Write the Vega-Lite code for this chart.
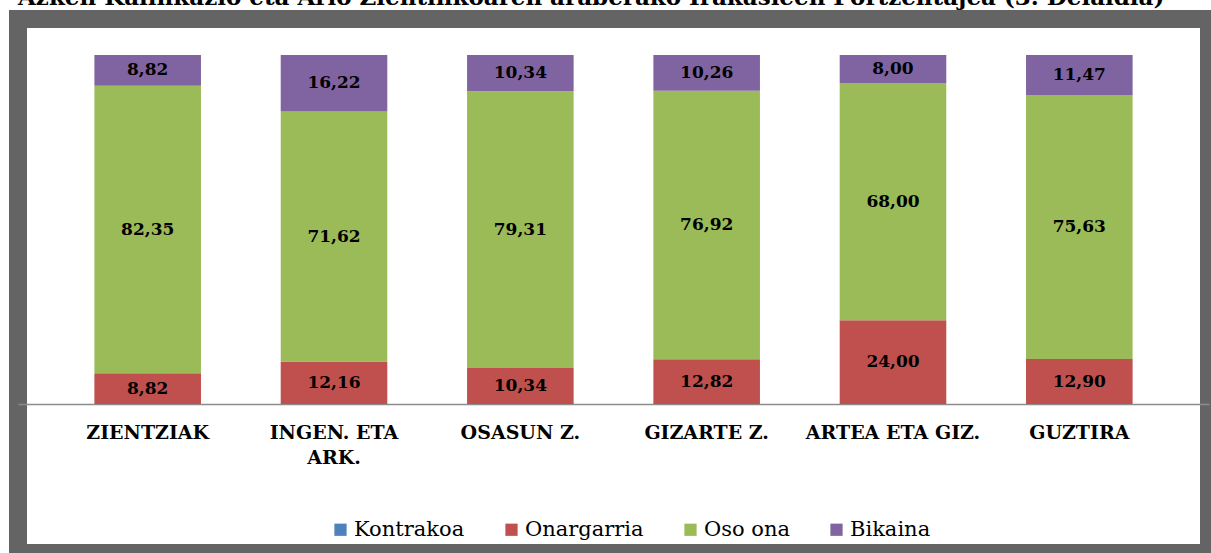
{
  "$schema": "https://vega.github.io/schema/vega-lite/v6.json",
  "autosize": {"type": "none"},
  "width": 1191,
  "height": 534,
  "padding": {"left": 18, "top": 19, "right": 2, "bottom": 0},
  "background": "white",
  "title": {
    "text": "Azken Kalifikazio eta Arlo Zientifikoaren araberako Irakasleen Portzentajea (3. Deialdia)",
    "anchor": "start",
    "font": "DejaVu Serif",
    "fontSize": 23,
    "fontWeight": "bold",
    "color": "black",
    "baseline": "alphabetic",
    "offset": 4,
    "dy": 13
  },
  "config": {
    "locale": {"number": {"decimal": ",", "thousands": ".", "grouping": [3], "currency": ["", " €"]}},
    "view": {"fill": "white", "stroke": "#646464", "strokeWidth": 18}
  },
  "data": {
    "values": [
      {"arloa": "ZIENTZIAK", "kalif": "Onargarria", "value": 8.82},
      {"arloa": "ZIENTZIAK", "kalif": "Oso ona", "value": 82.35},
      {"arloa": "ZIENTZIAK", "kalif": "Bikaina", "value": 8.82},
      {"arloa": "INGEN. ETA ARK.", "kalif": "Onargarria", "value": 12.16},
      {"arloa": "INGEN. ETA ARK.", "kalif": "Oso ona", "value": 71.62},
      {"arloa": "INGEN. ETA ARK.", "kalif": "Bikaina", "value": 16.22},
      {"arloa": "OSASUN Z.", "kalif": "Onargarria", "value": 10.34},
      {"arloa": "OSASUN Z.", "kalif": "Oso ona", "value": 79.31},
      {"arloa": "OSASUN Z.", "kalif": "Bikaina", "value": 10.34},
      {"arloa": "GIZARTE Z.", "kalif": "Onargarria", "value": 12.82},
      {"arloa": "GIZARTE Z.", "kalif": "Oso ona", "value": 76.92},
      {"arloa": "GIZARTE Z.", "kalif": "Bikaina", "value": 10.26},
      {"arloa": "ARTEA ETA GIZ.", "kalif": "Onargarria", "value": 24.00},
      {"arloa": "ARTEA ETA GIZ.", "kalif": "Oso ona", "value": 68.00},
      {"arloa": "ARTEA ETA GIZ.", "kalif": "Bikaina", "value": 8.00},
      {"arloa": "GUZTIRA", "kalif": "Onargarria", "value": 12.90},
      {"arloa": "GUZTIRA", "kalif": "Oso ona", "value": 75.63},
      {"arloa": "GUZTIRA", "kalif": "Bikaina", "value": 11.47}
    ]
  },
  "transform": [
    {"calculate": "indexof(['Kontrakoa','Onargarria','Oso ona','Bikaina'], datum.kalif)", "as": "ord"},
    {"stack": "value", "groupby": ["arloa"], "sort": [{"field": "ord", "order": "ascending"}], "as": ["v0", "v1"]},
    {"calculate": "(datum.v0 + datum.v1) / 2", "as": "mid"}
  ],
  "encoding": {
    "x": {
      "field": "arloa",
      "type": "nominal",
      "sort": ["ZIENTZIAK", "INGEN. ETA ARK.", "OSASUN Z.", "GIZARTE Z.", "ARTEA ETA GIZ.", "GUZTIRA"],
      "scale": {"paddingInner": 0.428, "paddingOuter": 0.41},
      "axis": {
        "title": null,
        "orient": "bottom",
        "offset": -149,
        "ticks": false,
        "grid": false,
        "domainColor": "#8c8c8c",
        "domainWidth": 1.5,
        "labelAngle": 0,
        "labelFont": "DejaVu Serif",
        "labelFontWeight": "bold",
        "labelFontSize": 19,
        "labelColor": "black",
        "labelPadding": 19,
        "labelLineHeight": 25,
        "labelLimit": 0,
        "labelOverlap": false,
        "labelExpr": "datum.label == 'INGEN. ETA ARK.' ? ['INGEN. ETA', 'ARK.'] : datum.label"
      }
    }
  },
  "layer": [
    {
      "mark": {"type": "bar"},
      "encoding": {
        "y": {"field": "v0", "type": "quantitative", "scale": {"domain": [-42.69, 110.32], "nice": false, "zero": false}, "axis": null},
        "y2": {"field": "v1"},
        "color": {
          "field": "kalif",
          "type": "nominal",
          "scale": {"domain": ["Kontrakoa", "Onargarria", "Oso ona", "Bikaina"], "range": ["#4F81BD", "#C0504D", "#9BBB59", "#8064A2"]},
          "legend": {
            "title": null,
            "orient": "none",
            "direction": "horizontal",
            "legendX": 312,
            "legendY": 500,
            "symbolType": "square",
            "symbolSize": 150,
            "symbolStrokeWidth": 0,
            "labelFont": "DejaVu Serif",
            "labelFontSize": 21,
            "labelColor": "black",
            "labelOffset": 3,
            "columnPadding": 36
          }
        }
      }
    },
    {
      "mark": {"type": "text", "font": "DejaVu Serif", "fontWeight": "bold", "fontSize": 17, "color": "black", "baseline": "middle", "align": "center"},
      "encoding": {
        "y": {"field": "mid", "type": "quantitative"},
        "text": {"field": "value", "type": "quantitative", "format": ".2f"}
      }
    }
  ]
}
